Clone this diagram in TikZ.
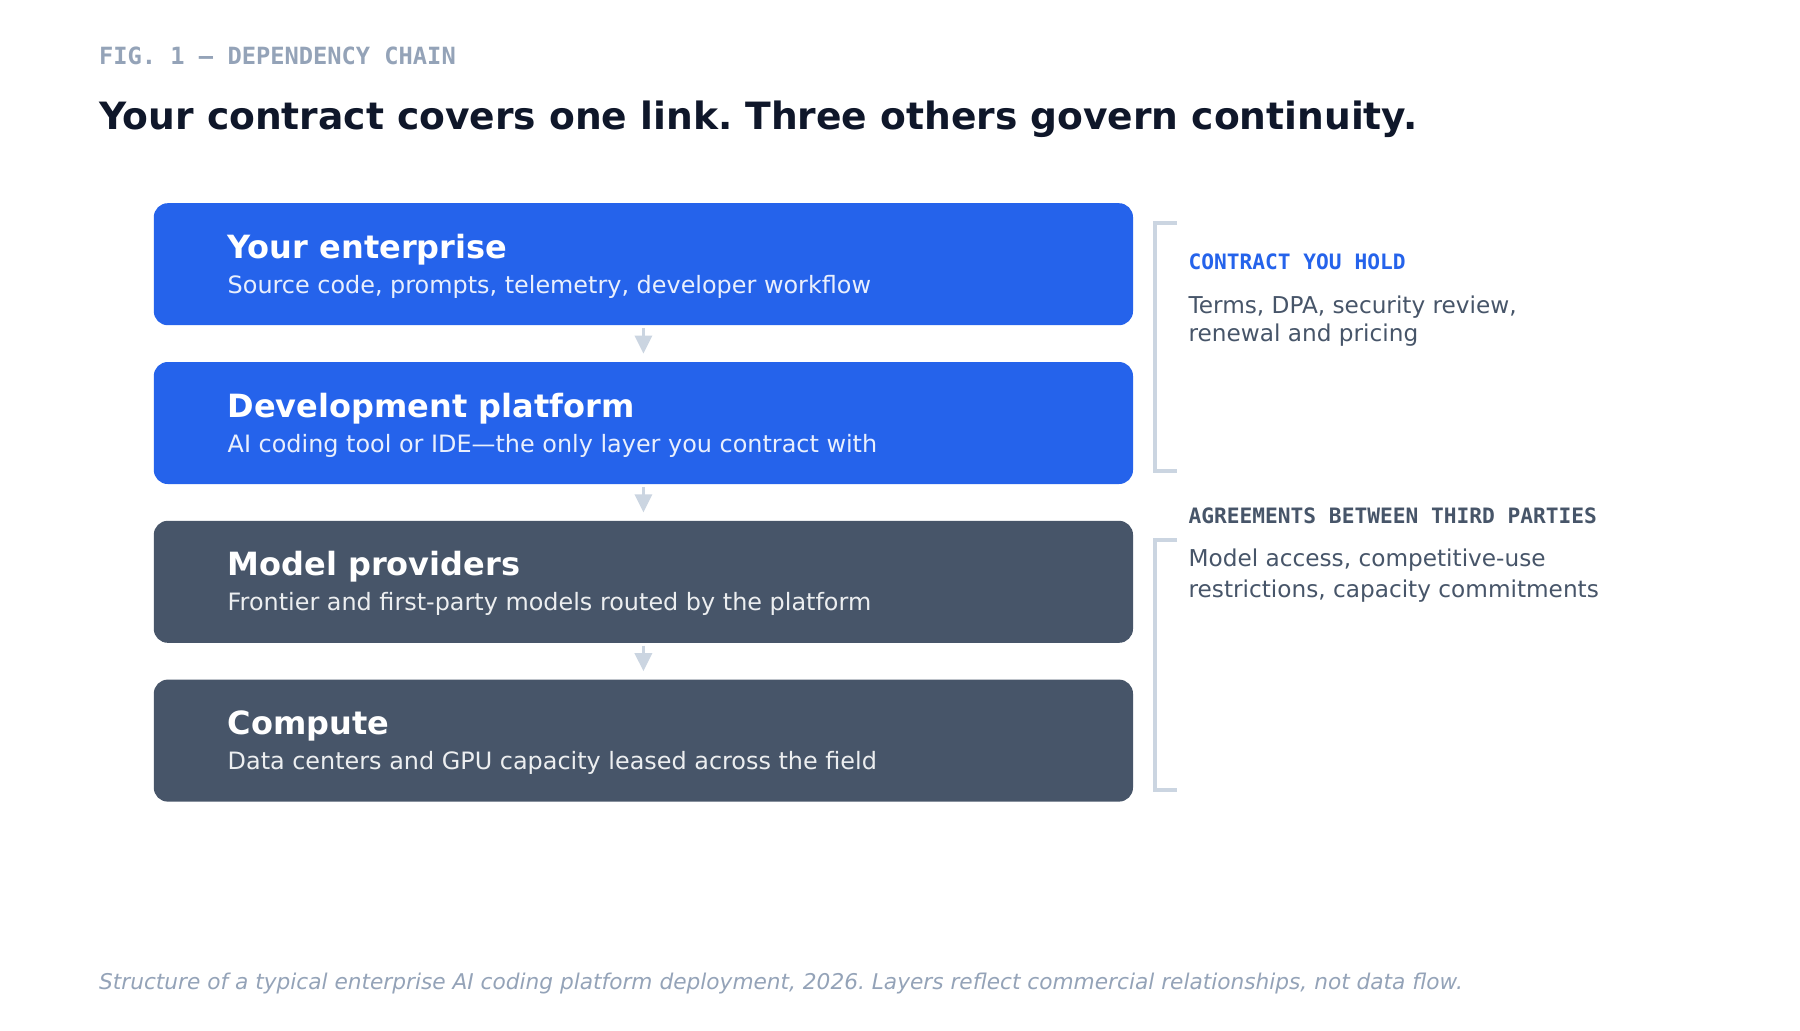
\documentclass[tikz,border=0pt]{standalone}
\usepackage{fontspec}
\setmainfont{DejaVu Sans}
\setmonofont{DejaVu Sans Mono}
\usetikzlibrary{arrows.meta}
\frenchspacing
\definecolor{cblue}{HTML}{2563EB}
\definecolor{cslate}{HTML}{475569}
\definecolor{cgray}{HTML}{94A3B8}
\definecolor{cdark}{HTML}{0F172A}
\definecolor{cline}{HTML}{CBD5E1}
\definecolor{cbody}{HTML}{475569}
\begin{document}
\begin{tikzpicture}[x=0.5pt,y=-0.5pt,
  layer/.style={rectangle, rounded corners=7pt, minimum width=489.6pt, minimum height=61pt, inner sep=0pt, draw=none},
  bluelayer/.style={layer, fill=cblue},
  darklayer/.style={layer, fill=cslate},
  ltitle/.style={anchor=base west, inner sep=0pt, text=white, font=\bfseries\fontsize{16}{19}\selectfont},
  lsub/.style={anchor=base west, inner sep=0pt, text=white, text opacity=0.9, font=\fontsize{11.95}{14}\selectfont},
  flow/.style={draw=cline, line width=1.5pt, -{Triangle[width=8.5pt,length=9pt]}},
  brk/.style={draw=cline, line width=2pt},
  tag/.style={anchor=base west, inner sep=0pt, font=\ttfamily\bfseries\fontsize{10.6}{12}\selectfont},
  body/.style={anchor=base west, inner sep=0pt, text=cbody, font=\fontsize{11.6}{15}\selectfont},
  plain/.style={anchor=base west, inner sep=0pt}
]
\fill[white] (0,0) rectangle (1800,1030);
\useasboundingbox (0,0) rectangle (1800,1030);

\node[plain, text=cgray, font=\ttfamily\bfseries\fontsize{11.85}{14}\selectfont] (fig) at (98.7,64.3) {FIG. 1 — DEPENDENCY CHAIN};
\node[plain, text=cdark, font=\bfseries\fontsize{18.8}{22}\selectfont] (title) at (98.7,129) {Your contract covers one link. Three others govern continuity.};

\node[bluelayer] (b1) at (643.4,264.2) {};
\node[bluelayer] (b2) at (643.4,423) {};
\node[darklayer] (b3) at (643.4,581.8) {};
\node[darklayer] (b4) at (643.4,740.6) {};

\node[ltitle] (t1) at (227.3,258.2) {Your enterprise};
\node[lsub] (s1) at (227.3,293.2) {Source code, prompts, telemetry, developer workflow};
\node[ltitle] (t2) at (227.3,417) {Development platform};
\node[lsub] (s2) at (227.3,452) {AI coding tool or IDE—the only layer you contract with};
\node[ltitle] (t3) at (227.3,575.8) {Model providers};
\node[lsub] (s3) at (227.3,610.8) {Frontier and first-party models routed by the platform};
\node[ltitle] (t4) at (227.3,734.6) {Compute};
\node[lsub] (s4) at (227.3,769.6) {Data centers and GPU capacity leased across the field};

\draw[flow] ([yshift=-1.25pt]b1.south) -- ([yshift=4pt]b2.north);
\draw[flow] ([yshift=-1.25pt]b2.south) -- ([yshift=4pt]b3.north);
\draw[flow] ([yshift=-1.25pt]b3.south) -- ([yshift=4pt]b4.north);

\coordinate (k1a) at (1177,223);
\coordinate (k1b) at (1177,470.7);
\coordinate (k2a) at (1177,540);
\coordinate (k2b) at (1177,789.8);
\draw[brk] (k1a) -- (1155.3,223) -- (1155.3,470.7) -- (k1b);
\draw[brk] (k2a) -- (1155.3,540) -- (1155.3,789.8) -- (k2b);

\node[tag, text=cblue] (h1) at (1188.2,269.8) {CONTRACT YOU HOLD};
\node[body] (d1a) at (1188.2,313) {Terms, DPA, security review,};
\node[body] (d1b) at (1188.2,341.5) {renewal and pricing};
\node[tag, text=cslate] (h2) at (1188.2,523.5) {AGREEMENTS BETWEEN THIRD PARTIES};
\node[body] (d2a) at (1188.2,566.5) {Model access, competitive-use};
\node[body] (d2b) at (1188.2,597) {restrictions, capacity commitments};

\node[plain, text=cgray, font=\itshape\fontsize{10.84}{13}\selectfont] (foot) at (98.7,989.6) {Structure of a typical enterprise AI coding platform deployment, 2026. Layers reflect commercial relationships, not data flow.};
\end{tikzpicture}
\end{document}
